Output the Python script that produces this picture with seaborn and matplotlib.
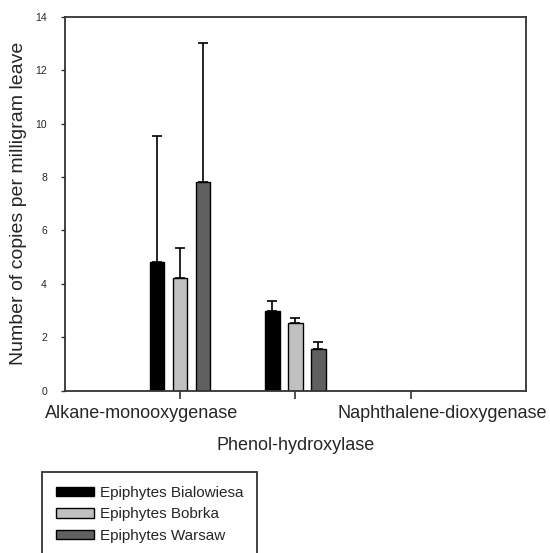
import numpy as np
import pandas as pd
import matplotlib
matplotlib.use("Agg")
import matplotlib.pyplot as plt
import matplotlib.transforms as mtransforms
import seaborn as sns

# ---- data ----
categories = ["Alkane-monooxygenase", "Phenol-hydroxylase", "Naphthalene-dioxygenase"]
series = ["Epiphytes Bialowiesa", "Epiphytes Bobrka", "Epiphytes Warsaw"]
bialowiesa = [4.8, 2.98, 0.0]
bobrka = [4.22, 2.55, 0.0]
warsaw = [7.82, 1.56, 0.0]
bialowiesa_err = [4.75, 0.39, 0.0]
bobrka_err = [1.13, 0.16, 0.0]
warsaw_err = [5.18, 0.25, 0.0]
y_ticks = [0, 2, 4, 6, 8, 10, 12, 14]
colors = ["#000000", "#c0c0c0", "#606060"]

values = [bialowiesa, bobrka, warsaw]
errors = [bialowiesa_err, bobrka_err, warsaw_err]
rows = []
for s, vals, errs in zip(series, values, errors):
    for c, v, e in zip(categories, vals, errs):
        rows.append({"gene": c, "site": s, "value": v, "err": e})
df = pd.DataFrame(rows)

sns.set_style("white")
plt.rcParams["font.family"] = ["Liberation Sans", "DejaVu Sans"]

fig = plt.figure(figsize=(5.5, 5.53), dpi=100)
ax = fig.add_axes([0.1182, 0.2935, 0.8376, 0.6763])

sns.barplot(data=df, x="gene", y="value", hue="site", order=categories,
            hue_order=series, palette=colors, errorbar=None, width=0.6,
            gap=0.37, edgecolor="black", linewidth=1.0, ax=ax)

# error bars (upper only), positioned from the drawn bars
for container, s in zip(ax.containers, series):
    sub = df[df.site == s].set_index("gene").loc[categories]
    for patch, (_, r) in zip(container.patches, sub.iterrows()):
        if r["err"] > 0:
            xc = patch.get_x() + patch.get_width() / 2
            ax.errorbar(xc, patch.get_height(), yerr=[[0], [r["err"]]],
                        fmt="none", ecolor="black", elinewidth=1.2,
                        capsize=3.3, capthick=1.2, zorder=1)

ax.set_xlim(-1.0, 3.0)
ax.set_ylim(0, 14)
ax.set_yticks(y_ticks)
ax.set_yticklabels([str(t) for t in y_ticks], fontsize=7.5)
ax.tick_params(axis="y", direction="out", length=3, width=1, pad=10, left=True, color="#333333")
ax.tick_params(axis="x", direction="out", length=6, width=1.2, pad=4, bottom=True, labelsize=13, color="#333333")

ax.set_xlabel("")
ax.set_ylabel("Number of copies per milligram leave", fontsize=14)
ax.yaxis.set_label_coords(-0.082, 0.5)

for sp in ax.spines.values():
    sp.set_visible(True)
    sp.set_color("#333333")
    sp.set_linewidth(1.3)

# stagger / shift category labels like the original
offsets = [(-0.39, 0.0), (0.0, -0.32), (0.32, 0.0)]
for lab, (dx, dy) in zip(ax.get_xticklabels(), offsets):
    lab.set_transform(lab.get_transform() + mtransforms.ScaledTranslation(dx, dy, fig.dpi_scale_trans))

# legend
handles, labels = ax.get_legend_handles_labels()
if ax.legend_:
    ax.legend_.remove()
leg = fig.legend(handles, labels, loc="upper left",
                 bbox_to_anchor=(42 / 550, 1 - 472 / 553), bbox_transform=fig.transFigure,
                 fontsize=11, frameon=True, fancybox=False, edgecolor="black",
                 handlelength=2.5, handleheight=0.6, labelspacing=0.5,
                 borderpad=0.9, handletextpad=0.4, borderaxespad=0)
leg.get_frame().set_linewidth(1.3)

fig.savefig("out.png", dpi=100)
